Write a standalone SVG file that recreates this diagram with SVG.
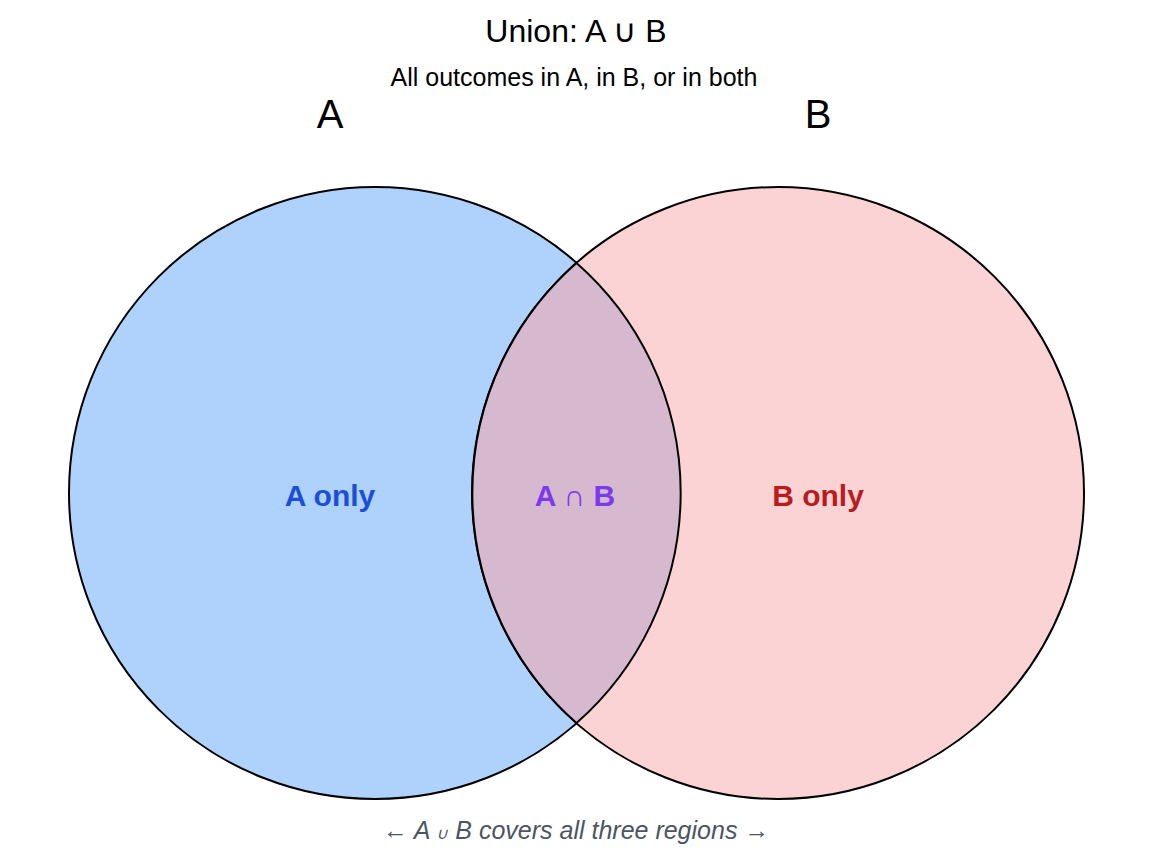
<svg xmlns="http://www.w3.org/2000/svg" width="1152" height="864" viewBox="0 0 1152 864">
<style>
text{font-family:"Liberation Sans",Arial,sans-serif;text-anchor:middle}
.c{stroke:#000;stroke-width:2}
.lab{font-size:30px;font-weight:bold}
</style>
<rect width="1152" height="864" fill="#fff"/>
<g id="setA"><circle class="c" cx="375" cy="493" r="306" fill="#aed2fb"/></g>
<g id="setB"><circle class="c" cx="778" cy="493" r="306" fill="#fbd3d5"/></g>
<g id="intersection"><path class="c" d="M576.5,263 A306,306 0 0 1 576.5,723 A306,306 0 0 1 576.5,263 Z" fill="#d6b9cf"/></g>
<text x="576" y="42" font-size="32">Union: A ∪ B</text>
<text x="574" y="86" font-size="25">All outcomes in A, in B, or in both</text>
<text x="330" y="128" font-size="40">A</text>
<text x="818" y="128" font-size="40">B</text>
<text class="lab" x="330" y="506" fill="#1d4ed8">A only</text>
<text class="lab" x="575" y="506" fill="#7c3aed">A ∩ B</text>
<text class="lab" x="818" y="506" fill="#b91c1c">B only</text>
<text x="576" y="839" font-size="25" font-style="italic" fill="#4b5563">← A <tspan font-size="16">∪</tspan> B covers all three regions →</text>
</svg>
